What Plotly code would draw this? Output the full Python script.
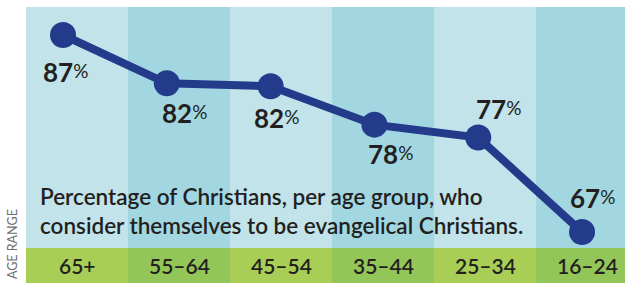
import plotly.graph_objects as go

age_groups = ["65+", "55-64", "45-54", "35-44", "25-34", "16-24"]
percent_values = [87, 82.1, 81.8, 77.9, 76.6, 67]
title_lines = ["Percentage of Christians, per age group, who",
               "consider themselves to be evangelical Christians."]
axis_label = "AGE RANGE"

# label placement offsets (pixels) relative to each point
label_shift_x = [2, 18, 6, 16, 20, 10]
label_shift_y = [-37, -30, -32, -29, 28, 34]

band_light = "#c1e3e9"
band_dark = "#a2d7e1"
green_light = "#a8ce55"
green_dark = "#93c658"
line_col = "#243b8c"
text_col = "#231f20"
FONT = "Lato"

x_idx = list(range(len(age_groups)))

fig = go.Figure()
fig.add_trace(go.Scatter(
    x=x_idx, y=percent_values, mode="lines+markers",
    line=dict(color=line_col, width=8),
    marker=dict(color=line_col, size=26),
    hoverinfo="skip", showlegend=False,
))

shapes = []
green_top = 35 / 276
step = 0.9827
start = -0.3565
for i in range(len(age_groups)):
    x0 = start + i * step
    x1 = start + (i + 1) * step
    shapes.append(dict(type="rect", xref="x", yref="paper", x0=x0, x1=x1,
                       y0=green_top, y1=1, fillcolor=band_light if i % 2 == 0 else band_dark,
                       line=dict(width=0), layer="below"))
    shapes.append(dict(type="rect", xref="x", yref="paper", x0=x0, x1=x1,
                       y0=0, y1=green_top, fillcolor=green_light if i % 2 == 0 else green_dark,
                       line=dict(width=0), layer="below"))

annotations = []
for i, (g, v) in enumerate(zip(age_groups, percent_values)):
    annotations.append(dict(
        x=i, y=v, xref="x", yref="y", showarrow=False,
        xshift=label_shift_x[i], yshift=label_shift_y[i],
        text=f"{round(v)}<span style='font-size:19px;font-weight:400;baseline-shift:4px'>%</span>",
        font=dict(family=FONT, size=26, color=text_col, weight=700),
    ))
    annotations.append(dict(
        x=start + (i + 0.5) * step, y=green_top / 2, xref="x", yref="paper",
        showarrow=False, text=g.replace("-", "–"),
        font=dict(family=FONT, size=21, color=text_col, weight=600),
        yanchor="middle", xanchor="center",
    ))

annotations.append(dict(
    x=12 / 599, y=(283 - 211) / 276, xref="paper", yref="paper", showarrow=False,
    text="<br>".join(title_lines), align="left",
    xanchor="left", yanchor="middle",
    font=dict(family=FONT, size=22.5, color=text_col, weight=600),
))

annotations.append(dict(
    x=-14 / 599, y=(283 - 244) / 276, xref="paper", yref="paper", showarrow=False,
    text=axis_label, textangle=-90, xanchor="center", yanchor="middle",
    font=dict(family=FONT, size=12.5, color="#6d6e70", weight=400),
))

fig.update_layout(
    width=625, height=283,
    margin=dict(l=26, r=0, t=7, b=0),
    paper_bgcolor="white", plot_bgcolor="white",
    shapes=shapes, annotations=annotations,
    xaxis=dict(range=[-0.3565, 5.414], visible=False, fixedrange=True),
    yaxis=dict(range=[61.822, 89.843], visible=False, fixedrange=True),
    showlegend=False,
)

fig.write_html("out.html", config={"displayModeBar": False},
               post_script="document.body.style.margin='0';document.body.style.overflow='hidden';")
